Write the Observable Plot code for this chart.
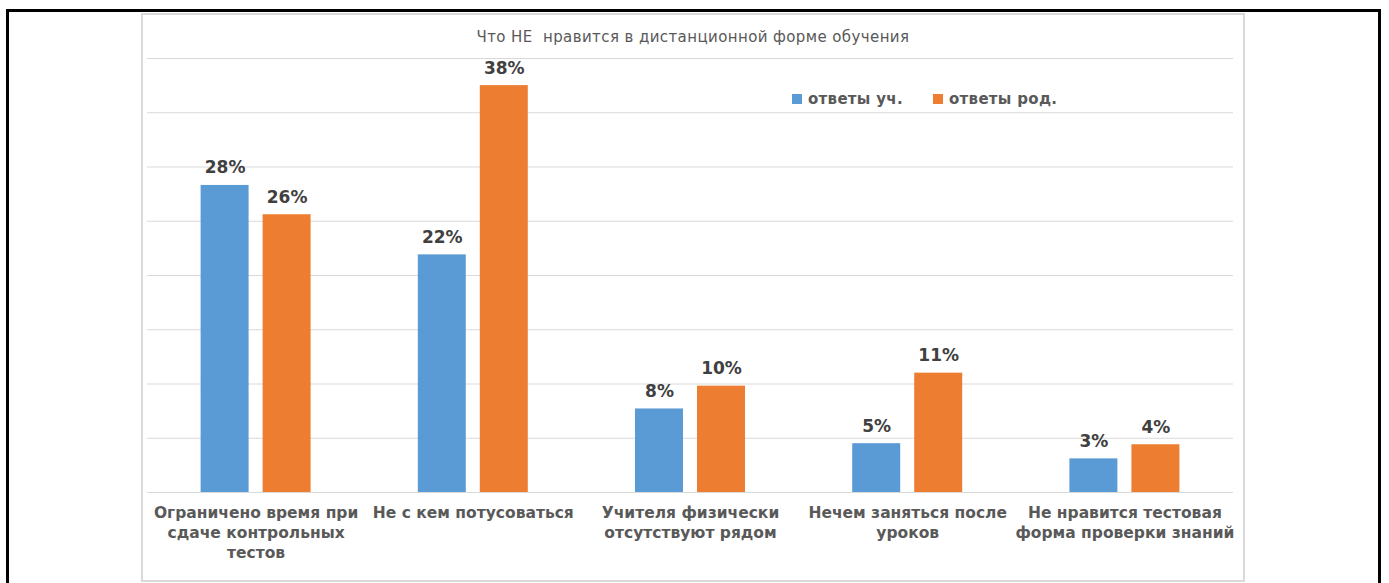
<!DOCTYPE html>
<html>
<head>
<meta charset="utf-8">
<script src="https://cdn.jsdelivr.net/npm/d3@7"></script>
<script src="https://cdn.jsdelivr.net/npm/@observablehq/plot@0.6"></script>
<style>
  html, body { margin: 0; padding: 0; background: #fff; overflow: hidden; }
  body { width: 1389px; height: 583px; position: relative; font-family: "DejaVu Sans", sans-serif; }
  #outer { position: absolute; left: 6px; top: 9px; width: 1369px; height: 600px; border: 3px solid #000; box-sizing: content-box; pointer-events: none; }
  #inner { position: absolute; left: 141px; top: 13px; width: 1100px; height: 565px; border: 2px solid #d9d9d9; pointer-events: none; }
  #chart { position: absolute; left: 0; top: 0; }
  #title { position: absolute; left: 141px; width: 1104px; top: 28px; text-align: center; font-size: 15px; color: #595959; letter-spacing: 0.4px; }
  .leg { position: absolute; top: 90px; font-size: 15px; font-weight: bold; color: #595959; white-space: nowrap; letter-spacing: 0.3px; }
  .sw { display: inline-block; width: 10px; height: 10px; margin-right: 6px; vertical-align: 0px; }
</style>
</head>
<body>
<div id="chart"></div>
<div id="outer"></div>
<div id="inner"></div>
<div id="title">Что НЕ&nbsp; нравится в дистанционной форме обучения</div>
<div id="legend"></div>
<script>
const categories = [
  "Ограничено время при сдаче контрольных тестов",
  "Не с кем потусоваться",
  "Учителя физически отсутствуют рядом",
  "Нечем заняться после уроков",
  "Не нравится тестовая форма проверки знаний"
];
const tickLabels = [
  "Ограничено время при\nсдаче контрольных\nтестов",
  "Не с кем потусоваться",
  "Учителя физически\nотсутствуют рядом",
  "Нечем заняться после\nуроков",
  "Не нравится тестовая\nформа проверки знаний"
];
const seriesNames = ["ответы уч.", "ответы род."];
const seriesColors = ["#5b9bd5", "#ed7d31"];
const studentValues = [0.283, 0.219, 0.077, 0.045, 0.031];
const parentValues = [0.256, 0.375, 0.098, 0.110, 0.044];
const studentLabels = ["28%", "22%", "8%", "5%", "3%"];
const parentLabels = ["26%", "38%", "10%", "11%", "4%"];
const yTicks = [0, 0.05, 0.10, 0.15, 0.20, 0.25, 0.30, 0.35, 0.40];

const students = categories.map((c, i) => ({cat: c, value: studentValues[i], label: studentLabels[i]}));
const parents = categories.map((c, i) => ({cat: c, value: parentValues[i], label: parentLabels[i]}));
const tickMap = new Map(categories.map((c, i) => [c, tickLabels[i]]));

const plot = Plot.plot({
  width: 1389,
  height: 583,
  marginLeft: 147,
  marginRight: 156,
  marginTop: 58,
  marginBottom: 91,
  style: {background: "transparent", fontFamily: "DejaVu Sans, sans-serif", overflow: "visible"},
  x: {domain: categories, paddingInner: 0.4936, paddingOuter: 0.2468, round: false, label: null},
  y: {domain: [0, 0.40], label: null},
  marks: [
    Plot.ruleY(yTicks, {stroke: "#d9d9d9", strokeWidth: 1}),
    Plot.barY(students, {x: "cat", y: "value", fill: seriesColors[0], insetRight: 62}),
    Plot.barY(parents, {x: "cat", y: "value", fill: seriesColors[1], insetLeft: 62}),
    Plot.text(students, {x: "cat", y: "value", text: "label", dx: -31, dy: -12, lineAnchor: "bottom", fontSize: 17, fontWeight: "bold", fill: "#404040"}),
    Plot.text(parents, {x: "cat", y: "value", text: "label", dx: 31, dy: -12, lineAnchor: "bottom", fontSize: 17, fontWeight: "bold", fill: "#404040"}),
    Plot.axisX({tickSize: 0, tickPadding: 11, tickFormat: d => tickMap.get(d), fontSize: 15.5, fontWeight: "bold", fill: "#595959", lineHeight: 1.29, label: null}),
    Plot.axisY({ticks: [], label: null, tickSize: 0})
  ]
});
document.getElementById("chart").appendChild(plot);

const legend = document.getElementById("legend");
const legX = [792, 933];
seriesNames.forEach((name, i) => {
  const d = document.createElement("div");
  d.className = "leg";
  d.style.left = legX[i] + "px";
  d.innerHTML = `<span class="sw" style="background:${seriesColors[i]}"></span>${name}`;
  legend.appendChild(d);
});
</script>
</body>
</html>
